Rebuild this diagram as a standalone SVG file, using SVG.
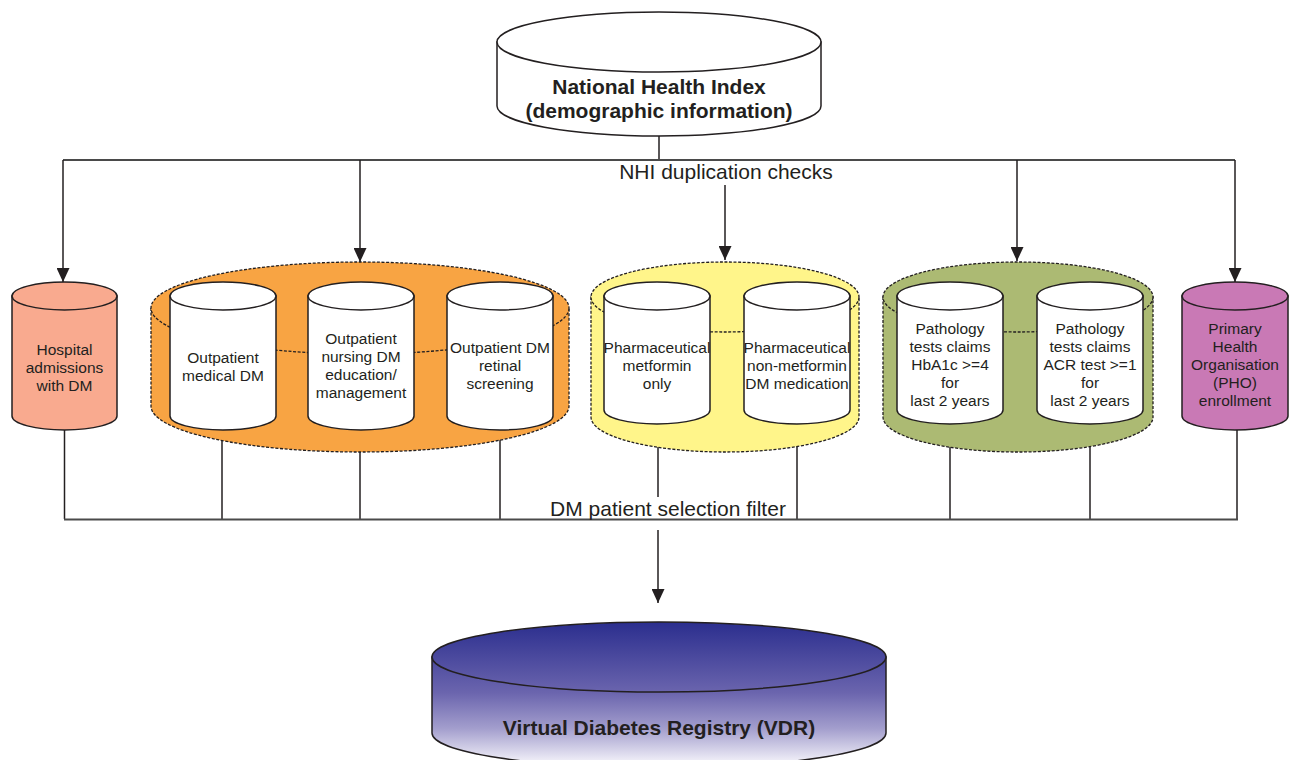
<svg xmlns="http://www.w3.org/2000/svg" width="1290" height="760" viewBox="0 0 1290 760">
<style>
.cyl{stroke:#231f20;stroke-width:1.5}
.w{fill:#ffffff}
.big{stroke:#231f20;stroke-width:1.3;stroke-dasharray:3 1.6}
.t{font-family:"Liberation Sans",Arial,sans-serif;font-size:15.5px;fill:#231f20;text-anchor:middle}
.b{font-family:"Liberation Sans",Arial,sans-serif;font-size:21px;font-weight:bold;fill:#231f20;text-anchor:middle}
.lbl{font-family:"Liberation Sans",Arial,sans-serif;font-size:21px;fill:#231f20;text-anchor:middle}
.ln{fill:none;stroke:#231f20;stroke-width:1.5}
.hl{fill:none;stroke:#4a4a4a;stroke-width:2}
</style>
<defs>
<marker id="arr" markerUnits="userSpaceOnUse" markerWidth="14" markerHeight="13" refX="14" refY="6.5" orient="auto">
<path d="M0,0 L14,6.5 L0,13 Z" fill="#231f20"/>
</marker>
<linearGradient id="vdrg" gradientUnits="userSpaceOnUse" x1="0" y1="622" x2="0" y2="764">
<stop offset="0" stop-color="#2b2e8e"/>
<stop offset="0.5" stop-color="#6b65ae"/>
<stop offset="0.75" stop-color="#a39ecd"/>
<stop offset="1" stop-color="#f6f5fb"/>
</linearGradient>
</defs>

<g id="connectors">
<path class="ln" d="M659,136 V160"/>
<path class="hl" d="M63,160 H1235"/>
<path class="ln" d="M63,160 V282" marker-end="url(#arr)"/>
<path class="ln" d="M360,160 V262" marker-end="url(#arr)"/>
<path class="ln" d="M1017,160 V261" marker-end="url(#arr)"/>
<path class="ln" d="M1235,160 V282" marker-end="url(#arr)"/>
<path class="ln" d="M725,185 V260" marker-end="url(#arr)"/>
<path class="ln" d="M64.5,430 V519"/>
<path class="ln" d="M222,440 V519"/>
<path class="ln" d="M360,452 V519"/>
<path class="ln" d="M500,440 V519"/>
<path class="ln" d="M658,447 V497"/>
<path class="ln" d="M797,446 V519"/>
<path class="ln" d="M950,447 V519"/>
<path class="ln" d="M1090,446 V519"/>
<path class="ln" d="M1237,430 V519"/>
<path class="hl" d="M64,519.5 H1238"/>
<path class="ln" d="M658,530 V603" marker-end="url(#arr)"/>
<text class="lbl" x="726" y="179">NHI duplication checks</text>
<text class="lbl" x="668" y="516">DM patient selection filter</text>
</g>

<g id="nhi">
<path class="cyl w" d="M497,42 V106 A162,30 0 0 0 821,106 V42 Z"/>
<ellipse class="cyl w" cx="659" cy="42" rx="162" ry="30"/>
<text class="b" x="659" y="94">National Health Index</text>
<text class="b" x="659" y="118">(demographic information)</text>
</g>

<g id="hospital">
<path class="cyl" fill="#f9aa8f" d="M12,296 V416 A52.5,14 0 0 0 117,416 V296 Z"/>
<ellipse class="cyl" fill="#f9aa8f" cx="64.5" cy="296" rx="52.5" ry="14"/>
<text class="t" x="64.5" y="354.5">Hospital</text>
<text class="t" x="64.5" y="372.5">admissions</text>
<text class="t" x="64.5" y="390.5">with DM</text>
</g>

<g id="outpatient-group">
<path class="big" fill="#f8a443" d="M151,308 V406 A209,46 0 0 0 569,406 V308 Z"/>
<ellipse class="big" fill="#f8a443" cx="360" cy="308" rx="209" ry="46"/>
<g id="outpatient-medical">
<path class="cyl w" d="M170,296 V416 A53,14 0 0 0 276,416 V296 Z"/>
<ellipse class="cyl w" cx="223" cy="296" rx="53" ry="14"/>
<text class="t" x="223" y="362.5">Outpatient</text>
<text class="t" x="223" y="380.5">medical DM</text>
</g>
<g id="outpatient-nursing">
<path class="cyl w" d="M308,296 V416 A53,14 0 0 0 414,416 V296 Z"/>
<ellipse class="cyl w" cx="361" cy="296" rx="53" ry="14"/>
<text class="t" x="361" y="343.5">Outpatient</text>
<text class="t" x="361" y="361.5">nursing DM</text>
<text class="t" x="361" y="379.5">education/</text>
<text class="t" x="361" y="397.5">management</text>
</g>
<g id="outpatient-retinal">
<path class="cyl w" d="M447,296 V416 A53,14 0 0 0 553,416 V296 Z"/>
<ellipse class="cyl w" cx="500" cy="296" rx="53" ry="14"/>
<text class="t" x="500" y="352.5">Outpatient DM</text>
<text class="t" x="500" y="370.5">retinal</text>
<text class="t" x="500" y="388.5">screening</text>
</g>
</g>

<g id="pharma-group">
<path class="big" fill="#fff58a" d="M591,297 V417 A134,35 0 0 0 859,417 V297 Z"/>
<ellipse class="big" fill="#fff58a" cx="725" cy="297" rx="134" ry="35"/>
<g id="pharma-metformin">
<path class="cyl w" d="M604,296 V410 A53,14 0 0 0 710,410 V296 Z"/>
<ellipse class="cyl w" cx="657" cy="296" rx="53" ry="14"/>
<text class="t" x="657" y="352.5">Pharmaceutical</text>
<text class="t" x="657" y="370.5">metformin</text>
<text class="t" x="657" y="388.5">only</text>
</g>
<g id="pharma-nonmetformin">
<path class="cyl w" d="M744,296 V410 A53,14 0 0 0 850,410 V296 Z"/>
<ellipse class="cyl w" cx="797" cy="296" rx="53" ry="14"/>
<text class="t" x="797" y="352.5">Pharmaceutical</text>
<text class="t" x="797" y="370.5">non-metformin</text>
<text class="t" x="797" y="388.5">DM medication</text>
</g>
</g>

<g id="pathology-group">
<path class="big" fill="#acba73" d="M883,297 V417 A135,35 0 0 0 1153,417 V297 Z"/>
<ellipse class="big" fill="#acba73" cx="1018" cy="297" rx="135" ry="35"/>
<g id="pathology-hba1c">
<path class="cyl w" d="M897,296 V410 A53,14 0 0 0 1003,410 V296 Z"/>
<ellipse class="cyl w" cx="950" cy="296" rx="53" ry="14"/>
<text class="t" x="950" y="333.5">Pathology</text>
<text class="t" x="950" y="351.5">tests claims</text>
<text class="t" x="950" y="369.5">HbA1c &gt;=4</text>
<text class="t" x="950" y="387.5">for</text>
<text class="t" x="950" y="405.5">last 2 years</text>
</g>
<g id="pathology-acr">
<path class="cyl w" d="M1037,296 V410 A53,14 0 0 0 1143,410 V296 Z"/>
<ellipse class="cyl w" cx="1090" cy="296" rx="53" ry="14"/>
<text class="t" x="1090" y="333.5">Pathology</text>
<text class="t" x="1090" y="351.5">tests claims</text>
<text class="t" x="1090" y="369.5">ACR test &gt;=1</text>
<text class="t" x="1090" y="387.5">for</text>
<text class="t" x="1090" y="405.5">last 2 years</text>
</g>
</g>

<g id="pho">
<path class="cyl" fill="#c979b5" d="M1182,296 V416 A53,14 0 0 0 1288,416 V296 Z"/>
<ellipse class="cyl" fill="#c979b5" cx="1235" cy="296" rx="53" ry="14"/>
<text class="t" x="1235" y="333.5">Primary</text>
<text class="t" x="1235" y="351.5">Health</text>
<text class="t" x="1235" y="369.5">Organisation</text>
<text class="t" x="1235" y="387.5">(PHO)</text>
<text class="t" x="1235" y="405.5">enrollment</text>
</g>

<g id="vdr">
<path class="cyl" fill="url(#vdrg)" d="M432,657 V733 A227,35 0 0 0 886,733 V657 Z"/>
<ellipse class="cyl" fill="url(#vdrg)" cx="659" cy="657" rx="227" ry="35"/>
<text class="b" x="659" y="735">Virtual Diabetes Registry (VDR)</text>
</g>
</svg>
